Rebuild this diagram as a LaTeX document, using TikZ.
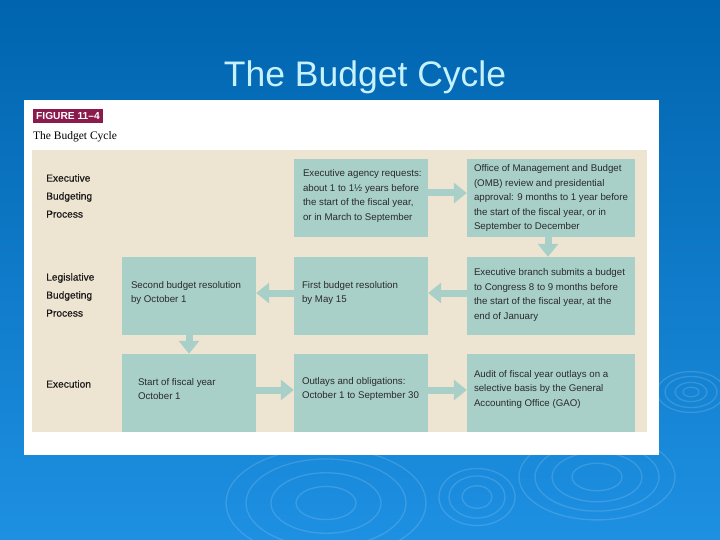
\documentclass[tikz,border=0pt]{standalone}
\usepackage{fontspec}
\setmainfont{Liberation Sans}
\newfontfamily\seriffont{Liberation Serif}
\newfontfamily\labfont[FakeBold=0.4]{Liberation Sans}
\usetikzlibrary{arrows.meta,calc}
\definecolor{bgtop}{HTML}{0064AE}
\definecolor{bgbot}{HTML}{1E90E2}
\definecolor{titlecol}{HTML}{C6F1FF}
\definecolor{beige}{HTML}{EEE4D2}
\definecolor{teal}{HTML}{A8D0C9}
\definecolor{maroon}{HTML}{8A1B4C}
\definecolor{txt}{HTML}{2A2A2A}
\tikzset{
  box/.style={fill=teal, draw=none, minimum height=78pt, inner sep=0pt},
  narrow/.style={box, minimum width=134pt},
  wide/.style={box, minimum width=168pt},
  btext/.style={anchor=west, inner sep=0pt, align=left,
    font=\fontsize{9.7}{14.5}\selectfont, text=txt},
  rowlab/.style={anchor=west, font=\labfont\fontsize{10.2}{18}\selectfont, text=black!90, align=left, inner sep=0pt},
  flow/.style={teal, line width=7pt, -{Triangle[width=20pt,length=13pt]}},
  ripple/.style={white, opacity=0.14, line width=1.3pt}
}
\begin{document}
\begin{tikzpicture}[x=1pt,y=-1pt]
\useasboundingbox (0,0) rectangle (720,540);
\shade[top color=bgtop, bottom color=bgbot] (0,0) rectangle (720,540);
% ripples
\foreach \r in {8,16,26,34} {\draw[ripple] (691,392) ellipse ({\r} and {\r*0.6});}
\foreach \r in {30,55,80,100} {\draw[ripple] (326,503) ellipse ({\r} and {\r*0.55});}
\foreach \r in {15,28,38} {\draw[ripple] (477,497) ellipse ({\r} and {\r*0.75});}
\foreach \r in {25,45,62,78} {\draw[ripple] (597,477) ellipse ({\r} and {\r*0.55});}
% title
\node[text=titlecol, font=\fontsize{35.5}{40}\selectfont, anchor=base] (title) at (365,87) {The Budget Cycle};
% panel
\fill[white] (24,100) rectangle (659,455);
\node[fill=maroon, text=white, font=\bfseries\fontsize{10.2}{12}\selectfont, anchor=north west, inner xsep=3pt, inner ysep=1.5pt, minimum height=14pt] (fig) at (33,109) {FIGURE 11–4};
\node[font=\seriffont\fontsize{11.5}{13}\selectfont, anchor=base west, inner sep=0pt] (cap) at (33,140) {The Budget Cycle};
\fill[beige] (32,150) rectangle (647,432);
% row labels
\node[rowlab] (l1) at (46,196) {Executive\\Budgeting\\Process};
\node[rowlab] (l2) at (46,295) {Legislative\\Budgeting\\Process};
\node[rowlab] (l3) at (46,384) {Execution};
% boxes
\node[narrow] (A) at (361,198) {};
\node[wide] (B) at (551,198) {};
\node[narrow] (C) at (189,296) {};
\node[narrow] (D) at (361,296) {};
\node[wide] (E) at (551,296) {};
\node[narrow] (F) at (189,393) {};
\node[narrow] (G) at (361,393) {};
\node[wide] (H) at (551,393) {};
% box texts
\node[btext] (tA) at ([xshift=9pt,yshift=2pt]A.west) {Executive agency requests:\\about 1 to 1½ years before\\the start of the fiscal year,\\or in March to September};
\node[btext] (tB) at ([xshift=7pt,yshift=0pt]B.west) {Office of Management and Budget\\(OMB) review and presidential\\approval: 9 months to 1 year before\\the start of the fiscal year, or in\\September to December};
\node[btext] (tC) at ([xshift=9pt,yshift=3pt]C.west) {Second budget resolution\\by October 1};
\node[btext] (tD) at ([xshift=8pt,yshift=3pt]D.west) {First budget resolution\\by May 15};
\node[btext] (tE) at ([xshift=7pt,yshift=1pt]E.west) {Executive branch submits a budget\\to Congress 8 to 9 months before\\the start of the fiscal year, at the\\end of January};
\node[btext] (tF) at ([xshift=16pt,yshift=4pt]F.west) {Start of fiscal year\\October 1};
\node[btext] (tG) at ([xshift=8pt,yshift=4pt]G.west) {Outlays and obligations:\\October 1 to September 30};
\node[btext] (tH) at ([xshift=7pt,yshift=4pt]H.west) {Audit of fiscal year outlays on a\\selective basis by the General\\Accounting Office (GAO)};
% arrows
\draw[flow] ([yshift=5pt]A.east) -- ([yshift=5pt]B.west);
\draw[flow] ([xshift=-3pt]B.south) -- ([xshift=-3pt]E.north);
\draw[flow] ([yshift=3pt]E.west) -- ([yshift=3pt]D.east);
\draw[flow] ([yshift=3pt]D.west) -- ([yshift=3pt]C.east);
\draw[flow] (C.south) -- (F.north);
\draw[flow] ([yshift=3pt]F.east) -- ([yshift=3pt]G.west);
\draw[flow] ([yshift=3pt]G.east) -- ([yshift=3pt]H.west);
\end{tikzpicture}
\end{document}
